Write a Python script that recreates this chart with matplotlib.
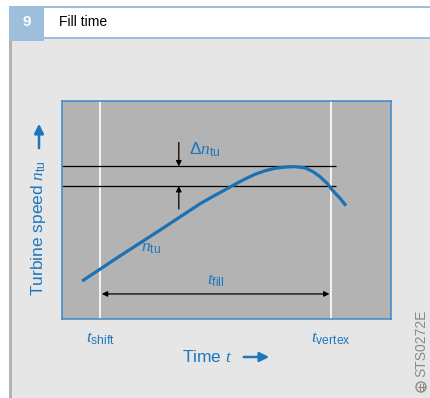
import matplotlib
matplotlib.use("Agg")
import matplotlib.pyplot as plt
from matplotlib.patches import Rectangle, Circle

plt.rcParams['font.family'] = ['Liberation Sans', 'DejaVu Sans']
plt.rcParams['mathtext.fontset'] = 'custom'
plt.rcParams['mathtext.rm'] = 'Liberation Sans'
plt.rcParams['mathtext.it'] = 'Liberation Serif:italic'
plt.rcParams['mathtext.bf'] = 'Liberation Sans:bold'

BLUE = '#1a72b5'
TXT = '#1f77bb'

# turbine speed over time during the fill phase (arbitrary units)
time = [0.61, 1.76, 2.98, 4.19, 4.56, 4.95, 5.26, 5.56, 5.87, 6.17, 6.47, 6.78,
        7.08, 7.39, 7.63, 7.84, 8.06, 8.24, 8.45, 8.63]
speed = [1.74, 2.89, 4.08, 5.28, 5.60, 5.92, 6.18, 6.42, 6.64, 6.80, 6.91, 6.97,
         6.99, 6.93, 6.76, 6.53, 6.22, 5.87, 5.54, 5.20]

t_shift = 1.16
t_vertex = 8.18
n_upper = 7.0
n_lower = 6.1
dn_x = 3.55
fill_y = 1.15

fig = plt.figure(figsize=(4.30, 3.98), dpi=100)
fig.patch.set_facecolor('white')

# page frame with header bar
bg = fig.add_axes([0, 0, 1, 1])
bg.set_xlim(0, 430)
bg.set_ylim(398, 0)
bg.axis('off')
bg.add_patch(Rectangle((9, 39), 421, 360, facecolor='#e6e6e6', edgecolor='none'))
bg.add_patch(Rectangle((10, 6), 420, 1.5, facecolor='#9dbfdc', edgecolor='none'))
bg.add_patch(Rectangle((10, 37), 420, 2.2, facecolor='#9dbfdc', edgecolor='none'))
bg.add_patch(Rectangle((9, 6), 35, 35, facecolor='#9dbfdc', edgecolor='none'))
bg.add_patch(Rectangle((9, 41), 3, 360, facecolor='#b3b3b3', edgecolor='none'))
bg.text(27, 22.5, '9', color='white', fontsize=11, fontweight='bold', ha='center', va='center')
bg.text(59, 22.5, 'Fill time', color='black', fontsize=10, ha='left', va='center')

# axis labels with their arrows
bg.text(38, 228, r'Turbine speed $\mathit{n}_\mathrm{tu}$', color=TXT, fontsize=12.5,
        rotation=90, ha='center', va='center')
bg.annotate('', xy=(39, 121), xytext=(39, 151),
            arrowprops=dict(arrowstyle='-|>', color=TXT, lw=1.8, mutation_scale=14))
bg.text(182, 357, r'Time $\mathit{t}$', color=TXT, fontsize=12.5, ha='left', va='center')
bg.annotate('', xy=(272, 357), xytext=(241, 357),
            arrowprops=dict(arrowstyle='-|>', color=TXT, lw=1.8, mutation_scale=14))

# figure code
bg.text(421, 343, 'STS0272E', color='#8a8a8a', fontsize=10, rotation=90, ha='center', va='center')
bg.add_patch(Circle((421, 387), 5, facecolor='none', edgecolor='#8a8a8a', lw=1))
bg.plot([417.5, 424.5], [387, 387], color='#8a8a8a', lw=0.8)
bg.plot([419.5, 419.5], [383.5, 390.5], color='#8a8a8a', lw=0.8)
bg.plot([422.5, 422.5], [383.5, 390.5], color='#8a8a8a', lw=0.8)

ax = fig.add_axes([62 / 430, 1 - 319 / 398, 329 / 430, 218 / 398])
ax.set_facecolor('#b3b3b3')
ax.set_xlim(0, 10)
ax.set_ylim(0, 10)
ax.set_xticks([])
ax.set_yticks([])
for s in ax.spines.values():
    s.set_color('#3a87c8')
    s.set_linewidth(1.1)

ax.axvline(t_shift, color='white', lw=1.2)
ax.axvline(t_vertex, color='white', lw=1.2)
ax.hlines([n_upper, n_lower], 0, 8.32, color='black', lw=0.9)

ax.plot(time, speed, color=BLUE, lw=2.3, solid_capstyle='butt', solid_joinstyle='round')

# tolerance band arrows
ax.annotate('', xy=(dn_x, n_upper), xytext=(dn_x, n_upper + 1.1),
            arrowprops=dict(arrowstyle='-|>', color='black', lw=0.9, mutation_scale=8, shrinkA=0, shrinkB=0))
ax.annotate('', xy=(dn_x, n_lower), xytext=(dn_x, n_lower - 1.05),
            arrowprops=dict(arrowstyle='-|>', color='black', lw=0.9, mutation_scale=8, shrinkA=0, shrinkB=0))
ax.text(dn_x + 0.3, n_upper + 0.78, r'$\Delta\mathit{n}_\mathrm{tu}$', color=TXT, fontsize=12.5,
        ha='left', va='center')

# fill time span
ax.annotate('', xy=(t_shift + 0.05, fill_y), xytext=(t_vertex - 0.05, fill_y),
            arrowprops=dict(arrowstyle='<|-|>', color='black', lw=0.9, mutation_scale=8, shrinkA=0, shrinkB=0))
ax.text((t_shift + t_vertex) / 2, fill_y + 0.6, r'$\mathit{t}_\mathrm{fill}$', color=TXT, fontsize=12.5,
        ha='center', va='center')

ax.text(2.7, 3.25, r'$\mathit{n}_\mathrm{tu}$', color=TXT, fontsize=12.5, ha='center', va='center')

# time markers below the axis
ax.text(t_shift, -0.55, r'$\mathit{t}_\mathrm{shift}$', color=TXT, fontsize=12.5, ha='center', va='top')
ax.text(t_vertex, -0.55, r'$\mathit{t}_\mathrm{vertex}$', color=TXT, fontsize=12.5, ha='center', va='top')

fig.savefig('out.png', dpi=100, facecolor=fig.get_facecolor())
